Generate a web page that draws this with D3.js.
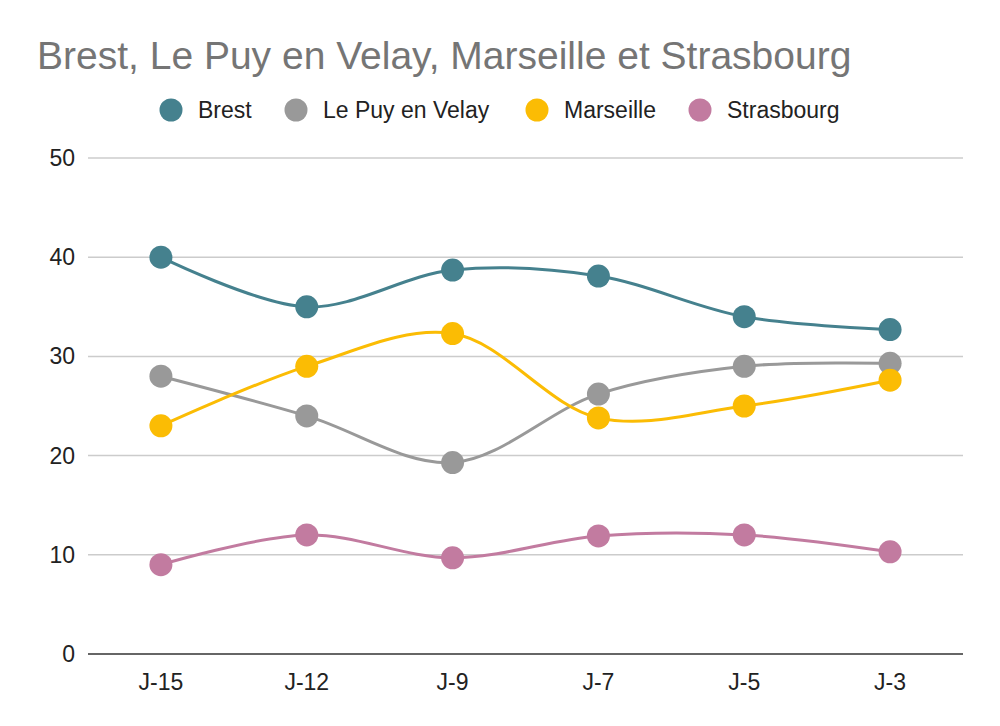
<!DOCTYPE html>
<html><head><meta charset="utf-8">
<script src="https://cdn.jsdelivr.net/npm/d3@7"></script>
<style>body{margin:0;background:#fff}svg{display:block}text{font-family:"Liberation Sans",Arial,sans-serif}</style>
</head><body>
<script>
const categories = ["J-15","J-12","J-9","J-7","J-5","J-3"];
const seriesNames = ["Brest","Le Puy en Velay","Marseille","Strasbourg"];
const brest = [40, 35, 38.7, 38.1, 34, 32.7];
const lePuy = [28, 24, 19.3, 26.2, 29, 29.3];
const marseille = [23, 29, 32.3, 23.8, 25, 27.6];
const strasbourg = [9, 12, 9.7, 11.9, 12, 10.3];
const yTicks = [0,10,20,30,40,50];
const colors = ["#45818e","#999999","#fbbc04","#c27ba0"];
const title = "Brest, Le Puy en Velay, Marseille et Strasbourg";

const seriesValues = [brest, lePuy, marseille, strasbourg];
const W=1000,H=726, L=88, R=963, T=158, B=654;
const svg=d3.select("body").append("svg").attr("width",W).attr("height",H);
const x=d3.scaleBand().domain(categories).range([L,R]);
const y=d3.scaleLinear().domain([0,50]).range([B,T]);

svg.append("text").attr("x",37).attr("y",69).attr("font-size",39).attr("fill","#757575").text(title);

// grid
svg.append("g").selectAll("line").data(yTicks.filter(d=>d>0)).join("line")
 .attr("x1",L).attr("x2",R).attr("y1",d=>y(d)).attr("y2",d=>y(d))
 .attr("stroke","#cccccc").attr("stroke-width",1.5);
svg.append("g").selectAll("text").data(yTicks).join("text")
 .attr("x",75).attr("y",d=>y(d)+8).attr("text-anchor","end").attr("font-size",23).attr("fill","#222").text(d=>d);
svg.append("line").attr("x1",L).attr("x2",R).attr("y1",y(0)).attr("y2",y(0)).attr("stroke","#333").attr("stroke-width",1.5);
svg.append("g").selectAll("text").data(categories).join("text")
 .attr("x",d=>x(d)+x.bandwidth()/2).attr("y",690).attr("text-anchor","middle").attr("font-size",23).attr("fill","#222").text(d=>d);

const line=d3.line().x((d,i)=>x(categories[i])+x.bandwidth()/2).y(d=>y(d)).curve(d3.curveCatmullRom.alpha(0.5));
seriesValues.forEach((vals,k)=>{
  svg.append("path").attr("d",line(vals)).attr("fill","none").attr("stroke",colors[k]).attr("stroke-width",3);
});
seriesValues.forEach((vals,k)=>{
  svg.append("g").selectAll("circle").data(vals).join("circle")
   .attr("cx",(d,i)=>x(categories[i])+x.bandwidth()/2).attr("cy",d=>y(d)).attr("r",11.5).attr("fill",colors[k]);
});

// legend
const legX=[171,296,537,700];
const lg=svg.append("g");
seriesNames.forEach((n,k)=>{
  lg.append("circle").attr("cx",legX[k]).attr("cy",110).attr("r",11.5).attr("fill",colors[k]);
  lg.append("text").attr("x",legX[k]+27).attr("y",118).attr("font-size",23).attr("fill","#222").text(n);
});
</script>
</body></html>
